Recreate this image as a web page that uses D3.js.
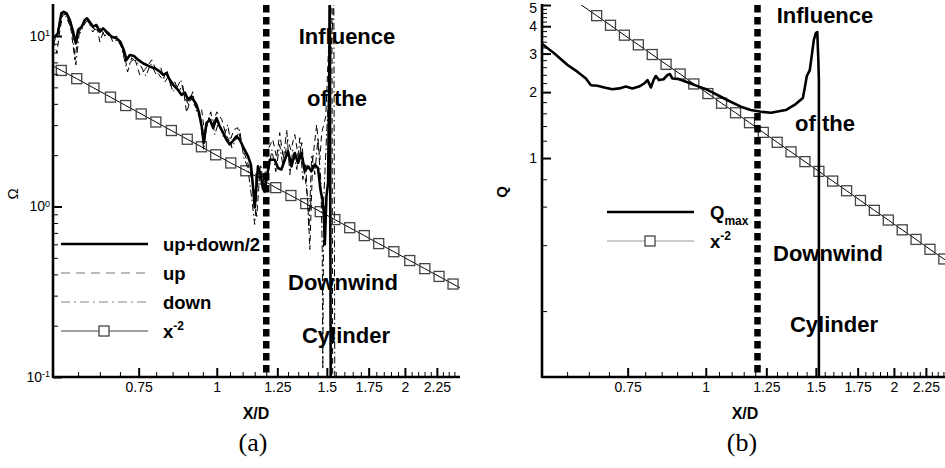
<!DOCTYPE html>
<html>
<head>
<meta charset="utf-8">
<script src="https://cdn.jsdelivr.net/npm/d3@7"></script>
<style>
  body { margin: 0; background: #fff; }
  svg { display: block; }
</style>
</head>
<body>
<script>
// shared x axis (log X/D)
var xDomain = [0.547, 2.45];
var xMajor = [0.75, 1, 1.25, 1.5, 1.75, 2, 2.25];
var xMinor = [0.6, 0.65, 0.7, 0.8, 0.85, 0.9, 0.95, 1.05, 1.1, 1.15, 1.2, 1.3, 1.35, 1.4, 1.45,
              1.55, 1.6, 1.65, 1.7, 1.8, 1.85, 1.9, 1.95, 2.05, 2.1, 2.15, 2.2, 2.3, 2.35, 2.4];
var noteLines = ["Influence", "of the", "Downwind", "Cylinder"];

// panel (a) : Omega
var aYDomain = [0.1, 15.2];
var aYMajor = [0.1, 1, 10];
var aYMinor = [0.2, 0.3, 0.4, 0.5, 0.6, 0.7, 0.8, 0.9, 2, 3, 4, 5, 6, 7, 8, 9];
var aLegend = ["up+down/2", "up", "down", "x"];
var aGapX = 1.2;

var aMeanX = [0.548,0.557,0.564,0.569,0.575,0.582,0.589,0.595,0.600,0.608,
              0.615,0.620,0.626,0.634,0.642,0.650,0.658,0.666,0.679,0.691,
              0.701,0.710,0.717,0.726,0.737,0.749,0.762,0.782,0.796,0.811,
              0.821,0.831,0.841,0.852,0.867,0.878,0.889,0.900,0.911,0.928,
              0.936,0.946,0.953,0.963,0.975,0.987,0.999,1.011,1.024,1.036,
              1.049,1.062,1.075,1.088,1.102,1.122,1.134,1.143,1.150,1.164,
              1.175,1.186,1.198,1.216,1.238,1.253,1.269,1.285,1.300,1.317,
              1.333,1.349,1.366,1.383,1.400,1.417,1.435,1.452,1.465,1.476,
              1.483,1.489,1.498,1.507,1.514,1.516,1.522];
var aMeanY = [9.73,10.37,13.57,13.87,13.57,12.41,10.60,9.06,10.84,11.34,
              12.41,12.69,12.12,11.34,11.60,10.60,11.09,10.60,9.91,9.69,
              9.26,8.28,7.24,7.74,7.64,7.24,6.92,6.61,6.47,6.18,
              5.91,6.05,5.53,5.17,4.83,4.52,4.66,4.22,4.42,3.95,
              3.59,2.95,2.36,3.09,3.23,2.89,3.30,2.95,2.70,2.47,
              2.31,2.43,2.58,2.47,2.24,1.97,1.76,1.31,0.987,1.72,
              1.54,1.26,1.38,1.88,1.88,1.68,1.65,1.88,2.11,1.72,
              2.06,1.80,2.06,1.61,1.72,1.61,1.76,1.68,1.26,1.10,
              0.935,0.60,1.15,1.38,7.24,25,0.07];

var aUpX = [0.547,0.555,0.561,0.567,0.575,0.584,0.593,0.599,0.608,0.617,
            0.626,0.633,0.643,0.650,0.660,0.669,0.679,0.692,0.702,0.710,
            0.718,0.729,0.739,0.753,0.767,0.787,0.802,0.820,0.832,0.844,
            0.857,0.869,0.882,0.895,0.909,0.926,0.946,0.957,0.971,0.985,
            1.000,1.019,1.034,1.049,1.065,1.080,1.101,1.117,1.134,1.146,
            1.159,1.172,1.189,1.207,1.229,1.247,1.261,1.280,1.299,1.314,
            1.333,1.353,1.368,1.383,1.398,1.409,1.424,1.445,1.462,1.472,
            1.494,1.516,1.528,1.533];
var aUpY = [9.48,7.95,10.84,13.27,13.45,11.14,7.24,9.73,11.60,12.74,
            11.75,10.55,11.44,9.22,10.84,10.14,9.73,10.0,8.98,7.74,
            6.68,7.05,7.44,5.91,6.33,7.24,6.16,5.53,6.33,5.10,
            5.38,4.71,5.17,3.55,4.34,3.79,3.69,2.64,3.31,3.02,
            3.59,3.23,2.64,2.40,2.82,2.90,2.15,1.88,1.54,1.18,
            0.874,1.60,1.35,2.15,2.47,1.93,2.71,1.83,2.47,2.15,
            2.64,1.88,2.37,1.54,1.10,0.560,1.88,3.02,1.88,2.71,
            3.36,12.41,18.6,0.0744];

var aDownX = [0.547,0.555,0.561,0.567,0.573,0.582,0.588,0.595,0.602,0.610,
              0.617,0.624,0.633,0.643,0.652,0.662,0.672,0.682,0.694,0.705,
              0.713,0.720,0.731,0.742,0.756,0.770,0.784,0.799,0.814,0.826,
              0.838,0.850,0.863,0.876,0.889,0.902,0.915,0.929,0.943,0.953,
              0.964,0.978,0.993,1.007,1.026,1.041,1.057,1.073,1.088,1.105,
              1.121,1.138,1.150,1.163,1.176,1.194,1.211,1.225,1.243,1.261,
              1.275,1.294,1.309,1.323,1.343,1.358,1.373,1.388,1.404,1.419,
              1.435,1.451,1.467,1.475,1.478,1.483,1.500,1.533,1.539,1.545];
var aDownY = [8.86,10.14,12.41,13.81,13.09,11.60,10.14,6.77,10.14,11.14,
              12.07,12.41,11.14,10.84,11.14,10.0,10.55,9.22,9.48,8.51,
              7.05,6.16,7.44,7.05,6.68,5.83,6.86,5.99,6.50,5.38,
              5.83,4.71,4.96,5.53,4.34,3.95,4.71,3.59,3.23,2.15,
              3.02,3.59,2.64,3.14,2.53,3.02,2.21,2.47,2.82,1.93,
              1.69,1.10,0.785,1.44,1.76,1.18,1.65,2.15,1.60,2.31,
              1.76,2.82,1.54,2.15,1.65,2.53,1.44,1.76,0.734,2.01,
              1.54,2.47,1.44,0.560,0.111,1.10,2.82,12.41,18.6,0.0744];

// x^-2 reference, marker points and line ends
var aRefX = [0.564,0.597,0.636,0.676,0.715,0.757,0.799,0.846,0.897,0.945,0.996,1.053,1.113,1.176,
             1.243,1.314,1.388,1.464,1.545,1.632,1.722,1.816,1.920,2.036,2.152,2.268,2.388];
var aRefY = [6.28,5.62,4.95,4.38,3.91,3.49,3.13,2.79,2.48,2.24,2.01,1.80,1.62,1.45,
             1.29,1.16,1.04,0.933,0.838,0.751,0.675,0.606,0.543,0.482,0.432,0.389,0.351];
var aRefEnds = [[0.547, 6.68], [2.45, 0.333]];

// panel (b) : Q
var bYDomain = [0.1, 5];
var bYMajor = [1, 2, 3, 4, 5];
var bYMinor = [0.2, 0.4, 0.6, 0.8, 1.2, 1.4, 1.6, 1.8, 2.2, 2.4, 2.6, 2.8,
               3.2, 3.4, 3.6, 3.8, 4.2, 4.4, 4.6, 4.8];
var bLegend = ["Q", "x"];
var bGapX = 1.21;

var bQX = [0.548,0.572,0.601,0.623,0.643,0.655,0.671,0.688,0.709,0.727,
           0.745,0.763,0.782,0.797,0.807,0.817,0.825,0.832,0.842,0.856,
           0.868,0.876,0.884,0.901,0.923,0.946,0.970,0.994,1.019,1.057,
           1.096,1.138,1.180,1.225,1.271,1.343,1.393,1.430,1.440,1.451,
           1.467,1.478,1.489,1.500,1.508,1.514,1.517,1.517];
var bQY = [3.31,3.01,2.66,2.48,2.31,2.15,2.14,2.10,2.06,2.08,
           2.12,2.08,2.12,2.19,2.27,2.10,2.27,2.37,2.27,2.29,
           2.39,2.42,2.31,2.30,2.25,2.19,2.13,2.08,2.01,1.905,
           1.807,1.716,1.656,1.627,1.610,1.656,1.765,1.88,2.09,2.37,
           2.52,2.95,3.46,3.72,3.76,2.80,2.27,0.05];

var bRefX = [0.669,0.704,0.741,0.780,0.821,0.864,0.910,0.957,1.008,1.060,1.116,1.175,1.236,
             1.301,1.369,1.441,1.517,1.596,1.680,1.768,1.861,1.959,2.062,2.170,2.284,2.404];
var bRefY = [4.47,4.04,3.64,3.29,2.97,2.68,2.42,2.18,1.97,1.78,1.61,1.45,1.31,
             1.18,1.067,0.963,0.869,0.785,0.709,0.640,0.577,0.521,0.470,0.425,0.383,0.346];
var bRefEnds = [[0.62, 5.2], [2.45, 0.333]];

var SANS = "Arial, 'Liberation Sans', Helvetica, sans-serif";
var TOP = 5, BOTTOM = 377;

var svg = d3.select("body").append("svg")
    .attr("width", 945)
    .attr("height", 468)
    .style("font-family", SANS);

function zip(xs, ys) {
    return xs.map(function(d, i) { return [d, ys[i]]; });
}

function styleAxis(sel, width) {
    sel.select(".domain").remove();
    sel.selectAll(".tick line").attr("stroke", "#000").attr("stroke-width", width);
    sel.attr("font-family", SANS).attr("font-size", 14);
    sel.selectAll(".tick text").attr("fill", "#000");
}

function drawPanel(p) {
    var g = svg.append("g");
    var x = d3.scaleLog().domain(xDomain).range([p.left, p.left + 407]);
    var y = d3.scaleLog().domain(p.yDomain).range([BOTTOM, TOP]);

    g.append("clipPath").attr("id", p.id)
        .append("rect")
        .attr("x", p.left).attr("y", TOP)
        .attr("width", 407).attr("height", BOTTOM - TOP);

    var line = d3.line()
        .x(function(d) { return x(d[0]); })
        .y(function(d) { return y(d[1]); });

    var data = g.append("g").attr("clip-path", "url(#" + p.id + ")");

    // x^-2 reference line with square markers
    var ref = zip(p.refX, p.refY);
    data.append("path")
        .datum([p.refEnds[0]].concat(ref, [p.refEnds[1]]))
        .attr("fill", "none").attr("stroke", "#000").attr("stroke-width", 1)
        .attr("d", line);
    data.selectAll("rect.mk")
        .data(ref).enter()
        .append("rect")
        .attr("class", "mk")
        .attr("x", function(d) { return x(d[0]) - 5; })
        .attr("y", function(d) { return y(d[1]) - 5; })
        .attr("width", 10).attr("height", 10)
        .attr("fill", "none").attr("stroke", "#444").attr("stroke-width", 1.3);

    p.series.forEach(function(s) {
        data.append("path")
            .datum(zip(s.x, s.y))
            .attr("fill", "none")
            .attr("stroke", "#000")
            .attr("stroke-width", s.width)
            .attr("stroke-dasharray", s.dash || null)
            .attr("stroke-linejoin", "round")
            .attr("d", line);
    });

    // thick dashed marker line
    g.append("line")
        .attr("x1", x(p.gapX)).attr("x2", x(p.gapX))
        .attr("y1", TOP).attr("y2", BOTTOM)
        .attr("stroke", "#000").attr("stroke-width", 6.5)
        .attr("stroke-dasharray", "7.5,4.5");

    // axes
    var ax = g.append("g").attr("transform", "translate(0," + BOTTOM + ")");
    ax.append("g").call(d3.axisBottom(x).tickValues(xMinor).tickSize(-5).tickSizeOuter(0).tickFormat(""))
        .call(styleAxis, 1);
    ax.append("g").call(d3.axisBottom(x).tickValues(xMajor).tickSize(-9).tickSizeOuter(0).tickPadding(5)
        .tickFormat(function(d) { return String(d); }))
        .call(styleAxis, 2);

    var ay = g.append("g").attr("transform", "translate(" + p.left + ",0)");
    ay.append("g").call(d3.axisLeft(y).tickValues(p.yMinor).tickSize(-5).tickSizeOuter(0).tickFormat(""))
        .call(styleAxis, 1);
    var major = ay.append("g").call(d3.axisLeft(y).tickValues(p.yMajor).tickSize(-9).tickSizeOuter(0)
        .tickPadding(p.labelPad).tickFormat(p.yFormat))
        .call(styleAxis, 2);
    if (p.yLabelPost) major.selectAll(".tick text").each(p.yLabelPost);
    // keep the top label inside the picture
    major.selectAll(".tick text")
        .filter(function(d) { return y(d) < 10; })
        .attr("dy", "0.5em");

    g.append("line")
        .attr("x1", p.left).attr("x2", p.left)
        .attr("y1", TOP - 1).attr("y2", BOTTOM + 1)
        .attr("stroke", "#000").attr("stroke-width", 2.6);
    g.append("line")
        .attr("x1", p.left).attr("x2", p.left + 407)
        .attr("y1", BOTTOM).attr("y2", BOTTOM)
        .attr("stroke", "#000").attr("stroke-width", 2.6);

    // axis titles
    g.append("text")
        .attr("x", p.left + 203).attr("y", 419)
        .attr("text-anchor", "middle")
        .attr("font-weight", "bold").attr("font-size", 16)
        .text("X/D");
    g.append("text")
        .attr("transform", "translate(" + p.yTitleX + "," + p.yTitleY + ") rotate(-90)")
        .attr("text-anchor", "middle")
        .attr("font-weight", p.yTitleWeight).attr("font-size", 15)
        .text(p.yTitle);
    g.append("text")
        .attr("x", p.left + 200).attr("y", 451)
        .attr("text-anchor", "middle")
        .attr("font-family", "'Liberation Serif', 'Times New Roman', serif")
        .attr("font-size", 26)
        .text(p.caption);

    // annotation
    g.selectAll("text.note")
        .data(noteLines).enter()
        .append("text")
        .attr("class", "note")
        .attr("x", function(d, i) { return p.notePos[i][0]; })
        .attr("y", function(d, i) { return p.notePos[i][1]; })
        .attr("dy", "0.35em")
        .attr("text-anchor", "middle")
        .attr("font-weight", "bold").attr("font-size", 22)
        .text(function(d) { return d; });

    return g;
}

function legendText(g, x0, yy, label, sub, sup) {
    var t = g.append("text")
        .attr("x", x0).attr("y", yy + 6.5)
        .attr("font-weight", "bold").attr("font-size", 18.5)
        .text(label);
    if (sup) t.append("tspan").attr("dy", -8).attr("font-size", 12).text(sup);
    if (sub) t.append("tspan").attr("dy", 6).attr("font-size", 12).text(sub);
}

// ---- panel (a)
var ga = drawPanel({
    id: "clipA", left: 53, yDomain: aYDomain, yMajor: aYMajor, yMinor: aYMinor,
    labelPad: 3,
    yFormat: function(d) { return "10"; },
    yLabelPost: function(d) {
        d3.select(this).append("tspan")
            .attr("dy", "-0.55em").attr("font-size", 9)
            .text(Math.round(Math.log10(d)));
    },
    gapX: aGapX,
    refX: aRefX, refY: aRefY, refEnds: aRefEnds,
    series: [
        { x: aUpX, y: aUpY, width: 1, dash: "6,4" },
        { x: aDownX, y: aDownY, width: 1, dash: "7,3,1.5,3" },
        { x: aMeanX, y: aMeanY, width: 2.6 }
    ],
    yTitle: "\u03A9", yTitleX: 18, yTitleY: 194, yTitleWeight: "normal",
    caption: "(a)",
    notePos: [[347, 36], [337, 98], [343, 282], [346, 335]]
});

var aLeg = ga.append("g");
var aLegY = [244, 273, 302, 331];
var aLegStyle = [
    { stroke: "#000", width: 2.6, dash: null },
    { stroke: "#777", width: 1.2, dash: "9,6" },
    { stroke: "#888", width: 1.2, dash: "9,4,2,4" },
    { stroke: "#444", width: 1, dash: null }
];
aLegend.forEach(function(label, i) {
    aLeg.append("line")
        .attr("x1", 61).attr("x2", 148)
        .attr("y1", aLegY[i]).attr("y2", aLegY[i])
        .attr("stroke", aLegStyle[i].stroke)
        .attr("stroke-width", aLegStyle[i].width)
        .attr("stroke-dasharray", aLegStyle[i].dash);
    legendText(aLeg, 163, aLegY[i], label, null, i === 3 ? "-2" : null);
});
aLeg.append("rect")
    .attr("x", 99).attr("y", aLegY[3] - 5)
    .attr("width", 10).attr("height", 10)
    .attr("fill", "#fff").attr("stroke", "#444").attr("stroke-width", 1.3);

// ---- panel (b)
var gb = drawPanel({
    id: "clipB", left: 542, yDomain: bYDomain, yMajor: bYMajor, yMinor: bYMinor,
    labelPad: 5,
    yFormat: function(d) { return String(d); },
    gapX: bGapX,
    refX: bRefX, refY: bRefY, refEnds: bRefEnds,
    series: [
        { x: bQX, y: bQY, width: 2.6 }
    ],
    yTitle: "Q", yTitleX: 507, yTitleY: 192, yTitleWeight: "bold",
    caption: "(b)",
    notePos: [[825, 15], [825, 123], [828, 253], [834, 324]]
});

var bLeg = gb.append("g");
var bLegY = [212, 241];
bLeg.append("line")
    .attr("x1", 607).attr("x2", 694).attr("y1", bLegY[0]).attr("y2", bLegY[0])
    .attr("stroke", "#000").attr("stroke-width", 2.6);
bLeg.append("line")
    .attr("x1", 607).attr("x2", 694).attr("y1", bLegY[1]).attr("y2", bLegY[1])
    .attr("stroke", "#999").attr("stroke-width", 1.2);
bLeg.append("rect")
    .attr("x", 645).attr("y", bLegY[1] - 5)
    .attr("width", 10).attr("height", 10)
    .attr("fill", "#fff").attr("stroke", "#444").attr("stroke-width", 1.3);
legendText(bLeg, 710, bLegY[0], bLegend[0], "max", null);
legendText(bLeg, 710, bLegY[1], bLegend[1], null, "-2");
</script>
</body>
</html>
